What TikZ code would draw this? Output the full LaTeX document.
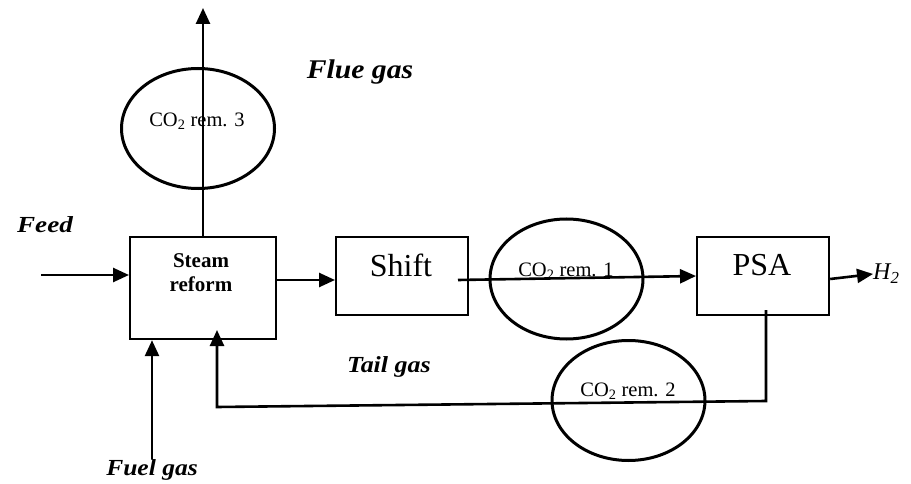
\documentclass[tikz,border=0pt]{standalone}
\usepackage{fontspec}
\setmainfont{Liberation Serif}
\usetikzlibrary{shapes.geometric,arrows.meta}
\newcommand{\wide}[2]{\scalebox{#1}[1]{#2}}
\begin{document}
\begin{tikzpicture}[x=1pt,y=-1pt,
  box/.style={draw, line width=2.2pt, inner sep=0pt, anchor=north west},
  ell/.style={draw, ellipse, line width=3pt, minimum width=153pt, minimum height=120pt, inner sep=0pt},
  flow/.style={line width=2.6pt, -{Triangle[length=16pt,width=14pt]}},
  lbl/.style={font=\fontsize{23}{26}\selectfont\bfseries\itshape, inner sep=0pt},
  co/.style={font=\fontsize{20.5}{22}\selectfont, inner sep=0pt},
  big/.style={font=\fontsize{32}{34}\selectfont, inner sep=0pt}]
\useasboundingbox (0,0) rectangle (911,484);
% ellipses
\node[ell] (e1) at (566.5,279) {};
\node[ell] (e2) at (628.5,400.5) {};
\node[ell] (e3) at (198,128.5) {};
\node[co] (c1) at (566,271) {CO\textsubscript{2} rem. 1};
\node[co] (c2) at (628,391) {CO\textsubscript{2} rem. 2};
\node[co] (c3) at (197,121) {CO\textsubscript{2} rem. 3};
% boxes
\node[box, minimum width=146pt, minimum height=102pt] (sr) at (129,236) {};
\node[box, minimum width=132pt, minimum height=78pt] (shift) at (335,236) {};
\node[box, minimum width=132pt, minimum height=78pt] (psa) at (696,236) {};
\node[font=\fontsize{21}{24}\selectfont\bfseries, align=center, inner sep=0pt] (srt) at (201,273) {Steam\\reform};
\node[big] (shiftt) at (401,265) {Shift};
\node[big] (psat) at (762,265) {PSA};
% labels
\node[lbl] (feed) at (45,225) {\wide{1.18}{Feed}};
\node[lbl, font=\fontsize{27}{30}\selectfont\bfseries\itshape] (flue) at (360,72) {\wide{1.1}{Flue gas}};
\node[lbl] (tail) at (389,367) {\wide{1.13}{Tail gas}};
\node[lbl] (fuel) at (152,470) {\wide{1.11}{Fuel gas}};
\node[font=\fontsize{24}{26}\selectfont\itshape, inner sep=0pt, anchor=west] (h2) at (873,274) {H\textsubscript{\textit{2}}};
% coordinates
\coordinate (fin) at (41,275);
\coordinate (top) at (203,8);
\coordinate (s1) at (458,280);
\coordinate (p1) at (766,310);
\coordinate (p2) at (766,401);
\coordinate (p3) at (217,407);
\coordinate (tg) at (217,330);
% flows
\draw[flow] (fin) -- (fin -| sr.west);
\draw[flow] (203,236) -- (top);
\draw[flow] (sr.east |- 0,280) -- (shift.west |- 0,280);
\draw[flow] (s1) -- (psa.west |- 0,276);
\draw[flow] (psa.east |- 0,279) -- (h2.west);
\draw[flow] (fuel.north) -- (fuel.north |- sr.south);
\draw[flow] (p1) -- (p2) -- (p3) -- (tg);
\end{tikzpicture}
\end{document}
